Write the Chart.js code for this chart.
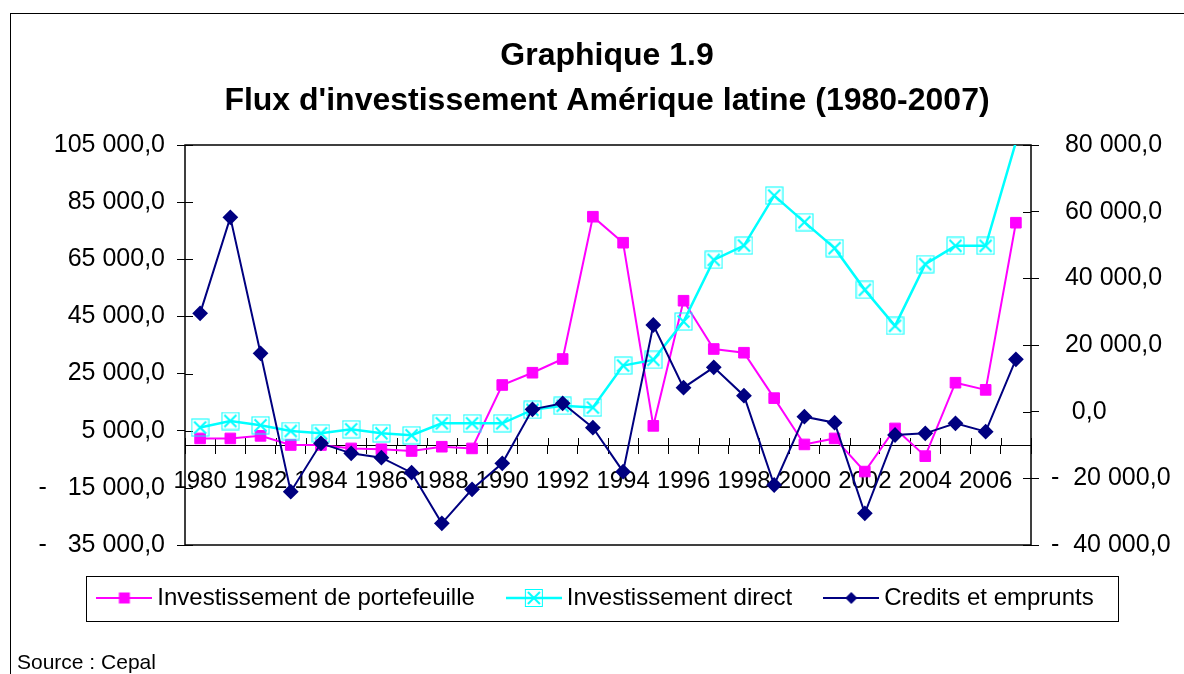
<!DOCTYPE html>
<html lang="fr">
<head>
<meta charset="utf-8">
<title>Graphique 1.9</title>
<script src="https://cdn.jsdelivr.net/npm/chart.js@4.4.1/dist/chart.umd.min.js"></script>
<style>
  html, body { margin: 0; padding: 0; background: #fff; overflow: hidden; width: 1184px; height: 674px; }
  #frame { position: absolute; left: 10px; top: 13px; width: 1192px; height: 700px; border: 1px solid #000; }
  #wrap { position: absolute; left: 0; top: 0; width: 1192px; height: 650px; }
  #source { position: absolute; left: 17px; top: 650px; font-family: 'Liberation Sans', Arial, sans-serif; font-size: 21px; line-height: 24px; color: #000; }
</style>
</head>
<body>
<div id="frame">
  <div id="wrap"><canvas id="chart"></canvas></div>
</div>
<div id="source">Source : Cepal</div>
<script>
// --- data ---
const years = ["1980", "1981", "1982", "1983", "1984", "1985", "1986", "1987", "1988", "1989",
  "1990", "1991", "1992", "1993", "1994", "1995", "1996", "1997", "1998", "1999",
  "2000", "2001", "2002", "2003", "2004", "2005", "2006", "2007"];

// left axis
const portefeuille = [2300, 2300, 3200, 0, 0, -1200, -1500, -2100, -600, -1200,
  21000, 25300, 30100, 79900, 70800, 6700, 50500, 33600, 32300, 16400,
  200, 2300, -9300, 5800, -3900, 21800, 19300, 77800];

// left axis
const direct = [6100, 8400, 6900, 4900, 4100, 5500, 4100, 3400, 7600, 7600,
  7600, 12300, 13700, 13100, 27800, 29800, 43200, 64800, 69800, 87300,
  78000, 68900, 54300, 41700, 63300, 69700, 69700, 106000];

// right axis
const credits = [29500, 58300, 17500, -24000, -9500, -12500, -13800, -18300, -33500, -23300,
  -15500, 700, 2500, -4800, -18000, 26000, 7200, 13300, 4800, -22000,
  -1500, -3300, -30500, -7000, -6500, -3500, -6000, 15700];

const leftTicks = [-35000, -15000, 5000, 25000, 45000, 65000, 85000, 105000];
const rightTicks = [-40000, -20000, 0, 20000, 40000, 60000, 80000];

const FONT = "'Liberation Sans', Arial, sans-serif";
const MAGENTA = "#FF00FF";
const CYAN = "#00FFFF";
const NAVY = "#000080";
const LEFT_MAX = 105000;

// "105 000,0" style numbers
function fmt(v) {
  const parts = Math.abs(v).toFixed(1).split(".");
  return parts[0].replace(/\B(?=(\d{3})+(?!\d))/g, " ") + "," + parts[1];
}

// --- marker images ---
function drawBoxCross(g, cx, cy) {
  g.strokeStyle = CYAN;
  g.lineWidth = 1;
  g.strokeRect(cx - 8.5, cy - 8.5, 17, 17);
  g.lineWidth = 2;
  g.beginPath();
  g.moveTo(cx - 6, cy - 6); g.lineTo(cx + 6, cy + 6);
  g.moveTo(cx + 6, cy - 6); g.lineTo(cx - 6, cy + 6);
  g.stroke();
}

function makeCanvas(w, h) {
  const c = document.createElement("canvas");
  c.width = w;
  c.height = h;
  return c;
}

const boxCross = makeCanvas(19, 19);
drawBoxCross(boxCross.getContext("2d"), 9.5, 9.5);

// legend samples: line with the marker in the middle
function legendSample(color, width, marker) {
  const c = makeCanvas(56, 20);
  const g = c.getContext("2d");
  g.strokeStyle = color;
  g.lineWidth = width;
  g.beginPath();
  g.moveTo(0, 10); g.lineTo(56, 10);
  g.stroke();
  marker(g, 28, 10);
  return c;
}

const legendSamples = [
  legendSample(MAGENTA, 2, function (g, x, y) {
    g.fillStyle = MAGENTA;
    g.fillRect(x - 5.5, y - 5.5, 11, 11);
  }),
  legendSample(CYAN, 2.5, drawBoxCross),
  legendSample(NAVY, 2, function (g, x, y) {
    g.fillStyle = NAVY;
    g.beginPath();
    g.moveTo(x, y - 6); g.lineTo(x + 6, y); g.lineTo(x, y + 6); g.lineTo(x - 6, y);
    g.closePath();
    g.fill();
  }),
];

// plot frame, crossing tick marks and the legend box
const framePlugin = {
  id: "framePlugin",
  afterLayout(chart) {
    // the Excel legend sits a little left of the page centre
    if (chart.legend) {
      chart.legend.left -= 8.5;
      chart.legend.right -= 8.5;
    }
  },
  beforeDatasetsDraw(chart) {
    const { ctx, chartArea: a, scales } = chart;
    ctx.save();
    ctx.strokeStyle = "#000";
    ctx.lineWidth = 1.5;
    ctx.strokeRect(a.left, a.top, a.right - a.left, a.bottom - a.top);
    ctx.lineWidth = 1;
    ctx.beginPath();
    scales.y.ticks.forEach(function (t) {
      const y = Math.round(scales.y.getPixelForValue(t.value)) + 0.5;
      ctx.moveTo(a.left, y); ctx.lineTo(a.left + 8, y);
    });
    scales.y2.ticks.forEach(function (t) {
      const y = Math.round(scales.y2.getPixelForValue(t.value)) + 0.5;
      ctx.moveTo(a.right - 8, y); ctx.lineTo(a.right, y);
    });
    const y0 = scales.y.getPixelForValue(0);
    for (let i = 0; i <= years.length; i++) {
      const x = Math.round(scales.x.getPixelForValue(i - 0.5)) + 0.5;
      ctx.moveTo(x, y0 - 7); ctx.lineTo(x, y0);
    }
    ctx.stroke();
    ctx.restore();
  },
  afterDraw(chart) {
    const lg = chart.legend;
    if (!lg || !lg.legendHitBoxes || !lg.legendHitBoxes.length) return;
    const hb = lg.legendHitBoxes;
    const l = Math.min(...hb.map((h) => h.left)) - 17.5;
    const r = Math.max(...hb.map((h) => h.left + h.width)) + 24;
    const cy = hb[0].top + hb[0].height / 2;
    const ctx = chart.ctx;
    ctx.save();
    ctx.strokeStyle = "#000";
    ctx.lineWidth = 1;
    ctx.strokeRect(Math.round(l) + 0.5, Math.round(cy - 22.5) + 0.5, Math.round(r - l), 45);
    ctx.restore();
  },
};

new Chart(document.getElementById("chart"), {
  type: "line",
  data: {
    labels: years,
    datasets: [
      {
        label: "Investissement de portefeuille",
        data: portefeuille,
        yAxisID: "y",
        borderColor: MAGENTA,
        backgroundColor: MAGENTA,
        borderWidth: 2,
        pointStyle: "rect",
        pointRadius: 7.5,
        pointBorderWidth: 1,
        order: 2,
      },
      {
        label: "Investissement direct",
        data: direct,
        yAxisID: "y",
        borderColor: CYAN,
        backgroundColor: "rgba(0,0,0,0)",
        borderWidth: 2.5,
        pointStyle: boxCross,
        // Excel hides the marker that falls above the axis maximum
        pointRadius: (c) => (c.raw > LEFT_MAX ? 0 : 9),
        order: 1,
      },
      {
        label: "Credits et emprunts",
        data: credits,
        yAxisID: "y2",
        borderColor: NAVY,
        backgroundColor: NAVY,
        borderWidth: 2,
        pointStyle: "rectRot",
        pointRadius: 6.5,
        order: 0,
      },
    ],
  },
  options: {
    responsive: true,
    maintainAspectRatio: false,
    animation: false,
    layout: { padding: { left: 0, right: 0, top: 0, bottom: 44 } },
    plugins: {
      title: {
        display: true,
        text: ["Graphique 1.9", "Flux d'investissement Amérique latine (1980-2007)"],
        color: "#000",
        font: { family: FONT, size: 32, weight: "bold", lineHeight: 44.5 / 32 },
        padding: { top: 20, bottom: 22 },
      },
      legend: {
        position: "bottom",
        // tiny empty title only used to push the row down
        title: { display: true, text: "", font: { size: 1, lineHeight: 1 }, padding: { top: 2, bottom: 0 } },
        labels: {
          usePointStyle: true,
          pointStyleWidth: 42,
          padding: 38,
          color: "#000",
          font: { family: FONT, size: 24 },
          generateLabels: function (chart) {
            const items = Chart.defaults.plugins.legend.labels.generateLabels(chart);
            items.forEach(function (it) {
              it.pointStyle = legendSamples[it.datasetIndex];
            });
            return items.sort((a, b) => a.datasetIndex - b.datasetIndex);
          },
        },
      },
      tooltip: { enabled: false },
    },
    scales: {
      x: {
        type: "category",
        offset: true,
        position: { y: 0 },
        grid: { offset: true, drawOnChartArea: false, drawTicks: true, tickLength: 8, color: "#000", lineWidth: 1 },
        border: { display: true, color: "#000", width: 1 },
        ticks: {
          autoSkip: false,
          maxRotation: 0,
          minRotation: 0,
          padding: 14,
          color: "#000",
          font: { family: FONT, size: 24 },
          callback: (v, i) => (i % 2 === 0 ? years[i] : ""),
        },
        afterFit: (s) => { s.height = 0; },
      },
      y: {
        position: "left",
        min: -35000,
        max: 105000,
        afterBuildTicks: (s) => { s.ticks = leftTicks.map((v) => ({ value: v })); },
        afterFit: (s) => { s.width = 174; },
        grid: { drawOnChartArea: false, tickLength: 8, color: "#000", lineWidth: 1 },
        border: { display: false },
        ticks: {
          padding: 12,
          color: "#000",
          font: { family: FONT, size: 25 },
          callback: (v) => (v < 0 ? "-   " + fmt(v) : fmt(v)),
        },
      },
      y2: {
        position: "right",
        min: -40000,
        max: 80000,
        afterBuildTicks: (s) => { s.ticks = rightTicks.map((v) => ({ value: v })); },
        afterFit: (s) => { s.width = 172; },
        grid: { drawOnChartArea: false, tickLength: 8, color: "#000", lineWidth: 1 },
        border: { display: false },
        ticks: {
          padding: 12,
          color: "#000",
          font: { family: FONT, size: 25 },
          callback: (v) => (v < 0 ? "-  " + fmt(v) : v === 0 ? "   " + fmt(v) : "  " + fmt(v)),
        },
      },
    },
  },
  plugins: [framePlugin],
});
</script>
</body>
</html>
